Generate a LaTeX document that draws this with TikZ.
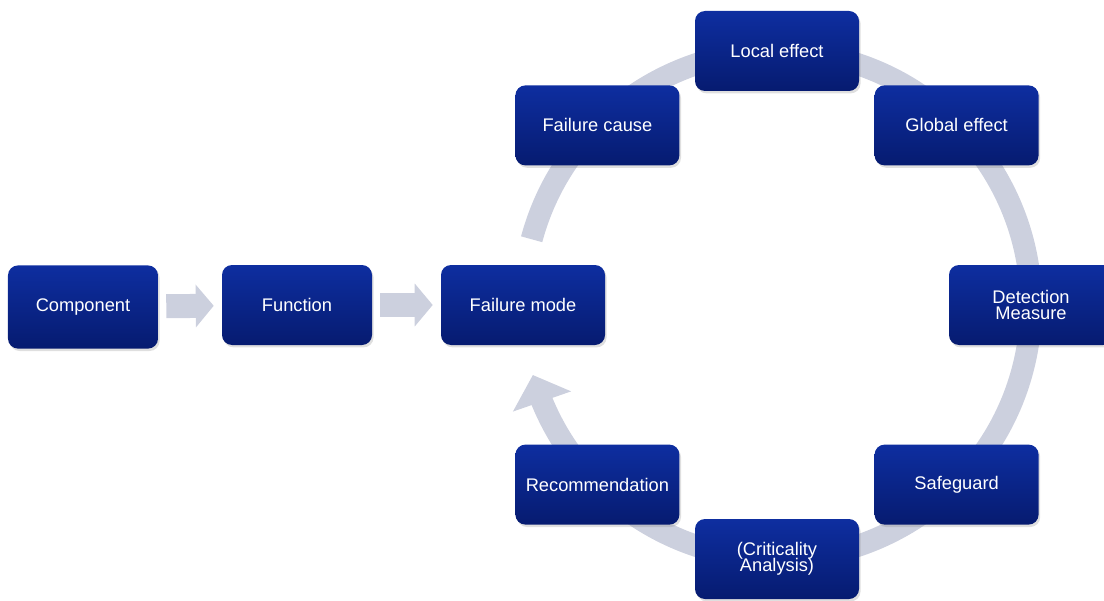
\documentclass[tikz,border=0pt]{standalone}
\usepackage{fontspec}
\setmainfont{Liberation Sans}
\usepackage{tikz}
\usetikzlibrary{calc,arrows.meta,bending,shadows}
\definecolor{boxtop}{RGB}{14,46,160}
\definecolor{boxbot}{RGB}{6,27,112}
\definecolor{ringgray}{RGB}{204,208,222}
\begin{document}
\begin{tikzpicture}
	\path [use as bounding box] (0,0) rectangle (27.6,15);
	\tikzstyle{box} = [rectangle, rounded corners=0.25cm, top color=boxtop, bottom color=boxbot, draw=none,
		minimum width=4.1cm, minimum height=2cm, text=white, align=center, font=\fontsize{13}{14.5}\selectfont,
		drop shadow={opacity=0.25, shadow xshift=0.04cm, shadow yshift=-0.06cm}]
	\tikzstyle{flow} = [line width=0.6cm, ringgray, shorten <=0.2cm, shorten >=0.2cm, -{Triangle[width=1.05cm, length=0.45cm]}]
	\tikzstyle{ring} = [line width=0.55cm, ringgray]
	\coordinate (O) at (19.425,7.375);
	\draw[ring, -{Triangle[width=1.5cm, length=0.7cm]}] ($(O)+(165:6.35)$) arc[start angle=165, end angle=-164, radius=6.35cm];
	\node[box, minimum width=3.75cm, minimum height=2.08cm] (comp) at (2.075,7.325) {Component};
	\node[box, minimum width=3.75cm] (func) at (7.425,7.375) {Function};
	\node[box] (fmode) at (13.075,7.375) {Failure mode};
	\node[box] (fcause) at ($(O)+(135:6.35)$) {Failure cause};
	\node[box] (local) at ($(O)+(90:6.35)$) {Local effect};
	\node[box] (global) at ($(O)+(45:6.35)$) {Global effect};
	\node[box] (detect) at ($(O)+(0:6.35)$) {Detection\\[-3pt]Measure};
	\node[box] (safe) at ($(O)+(-45:6.35)$) {Safeguard};
	\node[box] (crit) at ($(O)+(-90:6.35)$) {(Criticality\\[-3pt]Analysis)};
	\node[box] (recom) at ($(O)+(-135:6.35)$) {Recommendation};
	\draw[flow] (comp) -- (func);
	\draw[flow] (func) -- (fmode);
\end{tikzpicture}
\end{document}
